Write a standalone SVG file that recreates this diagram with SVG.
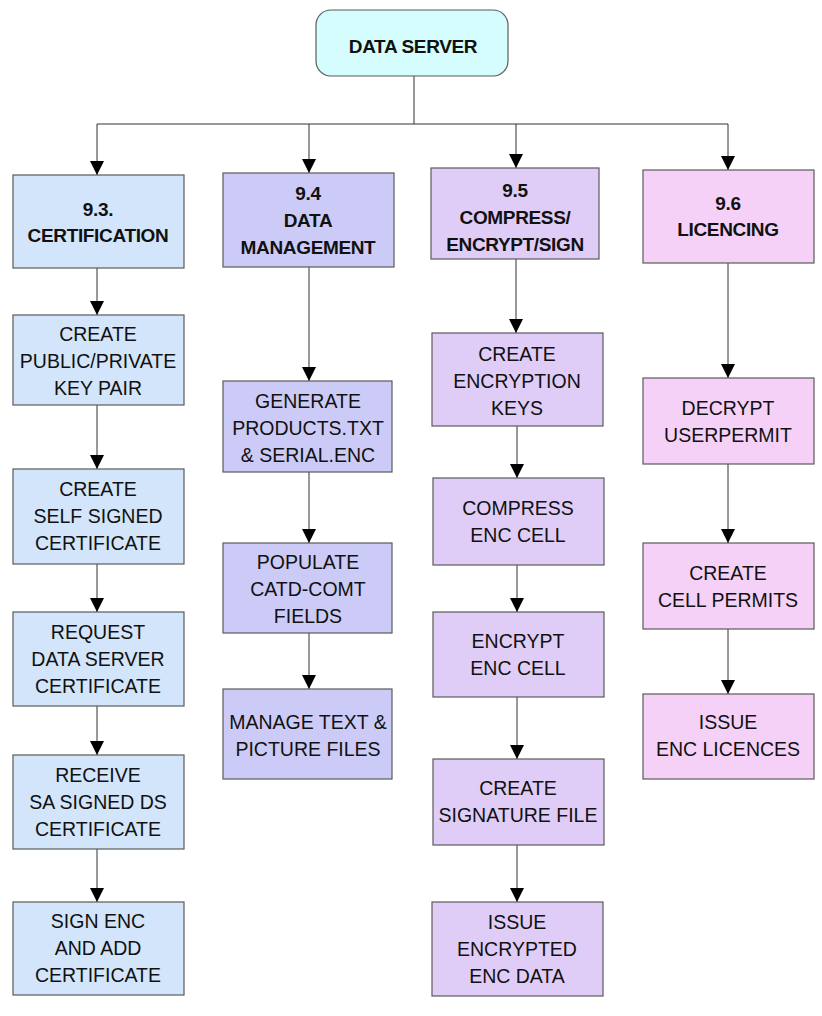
<svg xmlns="http://www.w3.org/2000/svg" width="822" height="1016" viewBox="0 0 822 1016">
<style>
.bx{stroke:#5a5a5a;stroke-width:1.2}
.c1{fill:#d3e5fa}.c2{fill:#cccbf7}.c3{fill:#e0cdf7}.c4{fill:#f5d1f7}.c0{fill:#d6fdfd}
text{font-family:"Liberation Sans",Arial,sans-serif;font-size:19.5px;fill:#111;text-anchor:middle}
.h{font-weight:bold;font-size:19px;letter-spacing:-0.35px}
.ln{stroke:#333;stroke-width:1;fill:none}
.ar{stroke:#333;stroke-width:1;fill:none;marker-end:url(#ah)}
</style>
<defs>
<marker id="ah" markerUnits="userSpaceOnUse" viewBox="0 0 14 14" refX="14" refY="7" markerWidth="14" markerHeight="14" orient="auto">
<path d="M0,0 L14,7 L0,14 z" fill="#000"/>
</marker>
</defs>
<rect width="822" height="1016" fill="#fff"/>
<g id="connectors">
<path class="ln" d="M414,76 V124 M97,124 H728"/>
<path class="ar" d="M97,124 V175"/>
<path class="ar" d="M309,124 V173"/>
<path class="ar" d="M516,124 V168"/>
<path class="ar" d="M728,124 V170"/>
<path class="ar" d="M97,268 V315"/>
<path class="ar" d="M97,405 V469"/>
<path class="ar" d="M97,564 V612"/>
<path class="ar" d="M97,706 V755"/>
<path class="ar" d="M97,849 V902"/>
<path class="ar" d="M309,267 V381"/>
<path class="ar" d="M309,472 V543"/>
<path class="ar" d="M309,633 V689"/>
<path class="ar" d="M516,259 V333"/>
<path class="ar" d="M517,426 V478"/>
<path class="ar" d="M517,565 V612"/>
<path class="ar" d="M517,697 V759"/>
<path class="ar" d="M517,845 V902"/>
<path class="ar" d="M728,263 V378"/>
<path class="ar" d="M728,464 V543"/>
<path class="ar" d="M728,629 V694"/>
</g>
<g id="data-server"><rect class="bx c0" x="316" y="10" width="192" height="66" rx="15"/><text class="h" x="413" y="53">DATA SERVER</text></g>
<g id="certification"><rect class="bx c1" x="13" y="175" width="171" height="93"/><text class="h" x="98" y="216">9.3.</text><text class="h" x="98" y="242">CERTIFICATION</text></g>
<g id="key-pair"><rect class="bx c1" x="13" y="315" width="171" height="90"/><text x="98" y="341">CREATE</text><text x="98" y="368">PUBLIC/PRIVATE</text><text x="98" y="395">KEY PAIR</text></g>
<g id="self-signed"><rect class="bx c1" x="13" y="469" width="171" height="95"/><text x="98" y="496">CREATE</text><text x="98" y="523">SELF SIGNED</text><text x="98" y="550">CERTIFICATE</text></g>
<g id="request-ds"><rect class="bx c1" x="13" y="612" width="171" height="94"/><text x="98" y="639">REQUEST</text><text x="98" y="666">DATA SERVER</text><text x="98" y="693">CERTIFICATE</text></g>
<g id="receive-sa"><rect class="bx c1" x="13" y="755" width="171" height="94"/><text x="98" y="782">RECEIVE</text><text x="98" y="809">SA SIGNED DS</text><text x="98" y="836">CERTIFICATE</text></g>
<g id="sign-enc"><rect class="bx c1" x="13" y="902" width="171" height="93"/><text x="98" y="928">SIGN ENC</text><text x="98" y="955">AND ADD</text><text x="98" y="982">CERTIFICATE</text></g>
<g id="data-management"><rect class="bx c2" x="223" y="173" width="171" height="94"/><text class="h" x="308" y="200">9.4</text><text class="h" x="308" y="227">DATA</text><text class="h" x="308" y="254">MANAGEMENT</text></g>
<g id="generate"><rect class="bx c2" x="223" y="381" width="169" height="91"/><text x="308" y="408">GENERATE</text><text x="308" y="435">PRODUCTS.TXT</text><text x="308" y="462">&amp; SERIAL.ENC</text></g>
<g id="populate"><rect class="bx c2" x="223" y="543" width="169" height="90"/><text x="308" y="569">POPULATE</text><text x="308" y="596">CATD-COMT</text><text x="308" y="623">FIELDS</text></g>
<g id="manage"><rect class="bx c2" x="223" y="689" width="169" height="90"/><text x="308" y="729">MANAGE TEXT &amp;</text><text x="308" y="756">PICTURE FILES</text></g>
<g id="compress-encrypt-sign"><rect class="bx c3" x="431" y="168" width="168" height="91"/><text class="h" x="515" y="197">9.5</text><text class="h" x="515" y="224">COMPRESS/</text><text class="h" x="515" y="251">ENCRYPT/SIGN</text></g>
<g id="encryption-keys"><rect class="bx c3" x="432" y="333" width="171" height="93"/><text x="517" y="361">CREATE</text><text x="517" y="388">ENCRYPTION</text><text x="517" y="415">KEYS</text></g>
<g id="compress"><rect class="bx c3" x="433" y="478" width="171" height="87"/><text x="518" y="515">COMPRESS</text><text x="518" y="542">ENC CELL</text></g>
<g id="encrypt"><rect class="bx c3" x="433" y="612" width="171" height="85"/><text x="518" y="648">ENCRYPT</text><text x="518" y="675">ENC CELL</text></g>
<g id="signature"><rect class="bx c3" x="433" y="759" width="171" height="86"/><text x="518" y="795">CREATE</text><text x="518" y="822">SIGNATURE FILE</text></g>
<g id="issue-encrypted"><rect class="bx c3" x="432" y="902" width="171" height="94"/><text x="517" y="929">ISSUE</text><text x="517" y="956">ENCRYPTED</text><text x="517" y="983">ENC DATA</text></g>
<g id="licencing"><rect class="bx c4" x="643" y="170" width="171" height="93"/><text class="h" x="728" y="210">9.6</text><text class="h" x="728" y="236">LICENCING</text></g>
<g id="decrypt"><rect class="bx c4" x="643" y="378" width="171" height="86"/><text x="728" y="415">DECRYPT</text><text x="728" y="442">USERPERMIT</text></g>
<g id="cell-permits"><rect class="bx c4" x="643" y="543" width="171" height="86"/><text x="728" y="580">CREATE</text><text x="728" y="607">CELL PERMITS</text></g>
<g id="issue-licences"><rect class="bx c4" x="643" y="694" width="171" height="85"/><text x="728" y="729">ISSUE</text><text x="728" y="756">ENC LICENCES</text></g>
</svg>
